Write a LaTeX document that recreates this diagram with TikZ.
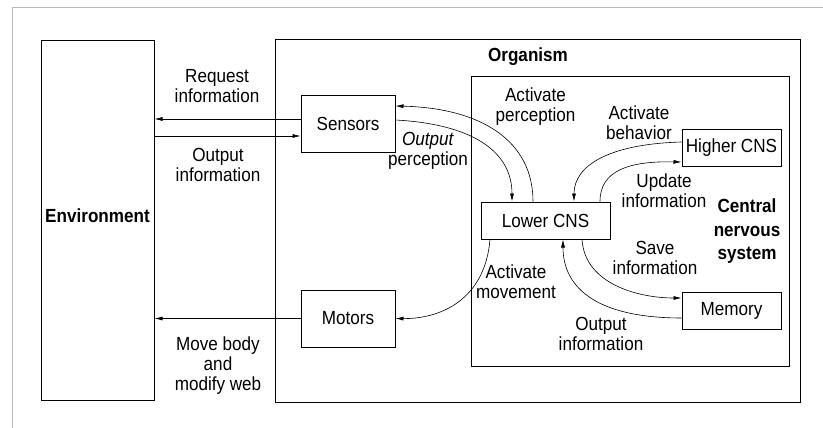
\documentclass[tikz,border=0pt]{standalone}
\usepackage{fontspec}
\setmainfont{Liberation Sans}[FakeStretch=0.9]
\usetikzlibrary{arrows.meta,positioning}
\tikzset{
    flow/.style={-{Latex[length=8pt, width=4pt]}, line width=0.6pt},
    block/.style={draw, line width=1pt, inner sep=0pt, font=\fontsize{19}{20}\selectfont},
    txt/.style={align=center, inner sep=0pt, font=\fontsize{19}{20}\selectfont},
    heading/.style={align=center, inner sep=0pt, font=\fontsize{19}{23.5}\selectfont\bfseries},
    scanline/.style={draw=gray!55, line width=0.5pt}
}

\begin{document}
\begin{tikzpicture}[x=1pt, y=-1pt]
    \useasboundingbox (0,0) rectangle (823,428);
    % page frame of the scan
    \draw[scanline] (12,428) -- (12,7) -- (823,7);

    % outer boxes
    \node[block, minimum width=113pt, minimum height=359pt] (environment) at (97.5,220.5) {};
    \node[heading] (envlabel) at (97.5,216) {Environment};
    \node[block, minimum width=525pt, minimum height=362pt] (organism) at (537.5,221) {};
    \node[heading] (orglabel) at (528,57) {Organism};
    \node[block, minimum width=318pt, minimum height=289pt] (cns) at (630,221.5) {};
    \node[heading, left=9pt of cns.east, yshift=-10pt] (cnslabel) {Central\\nervous\\system};

    % inner boxes
    \node[block, minimum width=94pt, minimum height=56pt] (sensors) at (348,124) {Sensors};
    \node[block, minimum width=94pt, minimum height=57pt] (motors) at (348,318.5) {Motors};
    \node[block, minimum width=129pt, minimum height=37pt] (lowercns) at (545.5,220.5) {Lower CNS};
    \node[block, minimum width=99pt, minimum height=36pt] (highercns) at (731.5,148) {Higher CNS};
    \node[block, minimum width=99pt, minimum height=37pt] (memory) at (731.5,310.5) {Memory};

    % labels
    \node[txt] (reqinfo) at (217,86.5) {Request\\information};
    \node[txt] (outinfo) at (218,165) {Output\\information};
    \node[txt] (movebody) at (218,366) {Move body\\and\\modify web};
    \node[txt] (actpercep) at (535.5,107) {Activate\\perception};
    \node[txt] (outpercep) at (428,151) {\textit{Output}\\perception};
    \node[txt] (actbehav) at (639,123) {Activate\\behavior};
    \node[txt] (updinfo) at (664,191) {Update\\information};
    \node[txt] (saveinfo) at (655,258) {Save\\information};
    \node[txt] (actmove) at (516,282) {Activate\\movement};
    \node[txt] (memout) at (601,334) {Output\\information};

    % organism and environment
    \coordinate (req) at ([yshift=5pt]sensors.west);
    \coordinate (sense) at ([yshift=-12pt]sensors.west);
    \draw[flow] (req) -- (req -| environment.east);
    \draw[flow] (sense -| environment.east) -- (sense);
    \draw[flow] (motors.west) -- (motors.west -| environment.east);

    % nervous system
    \draw[flow] ([xshift=-12.5pt]lowercns.north) .. controls (533,140) and (480,108) .. ([yshift=18pt]sensors.east);
    \draw[flow] ([yshift=4pt]sensors.east) .. controls (470,124) and (512,150) .. ([xshift=-33.5pt]lowercns.north);
    \draw[flow] ([yshift=6pt]highercns.west) .. controls (610,144) and (574,165) .. ([xshift=28.5pt]lowercns.north);
    \draw[flow] ([xshift=54.5pt]lowercns.north) .. controls (600,170) and (630,161) .. ([yshift=-14pt]highercns.west);
    \draw[flow] ([xshift=36.5pt]lowercns.south) .. controls (585,285) and (640,298) .. ([yshift=12.5pt]memory.west);
    \draw[flow] ([yshift=-7.5pt]memory.west) .. controls (600,318) and (563,290) .. ([xshift=17.5pt]lowercns.south);
    \draw[flow] ([xshift=-55.5pt]lowercns.south) .. controls (485,300) and (440,319) .. (motors.east);
\end{tikzpicture}
\end{document}
